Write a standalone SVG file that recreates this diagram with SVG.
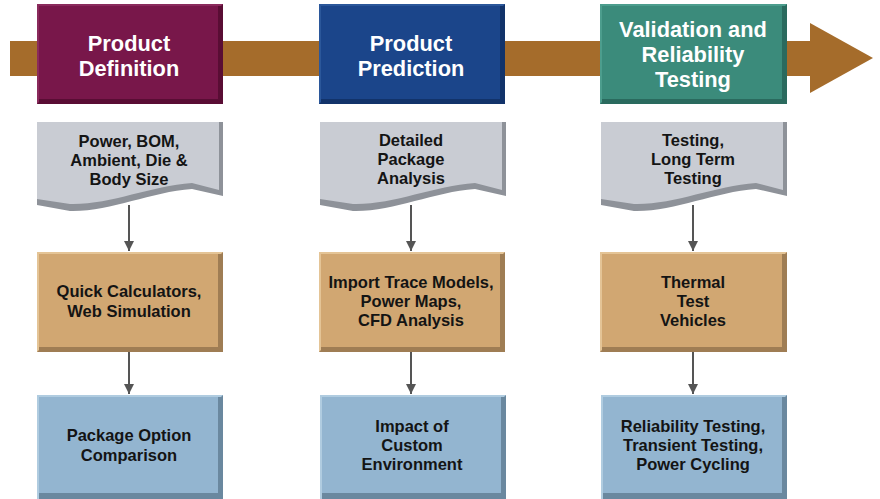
<svg xmlns="http://www.w3.org/2000/svg" width="880" height="499" viewBox="0 0 880 499">
<style>
text{font-family:"Liberation Sans",Arial,sans-serif;font-weight:bold;text-anchor:middle}
.ht{fill:#ffffff;font-size:21.8px}
.bt{fill:#141414;font-size:16.5px}
.conn line{stroke:#555555;stroke-width:2}
</style>
<defs>
<marker id="ah" markerWidth="10" markerHeight="11" refX="10" refY="5" orient="auto" markerUnits="userSpaceOnUse" viewBox="0 0 10 10"><path d="M0,0 L10,5 L0,10 Z" fill="#555555"/></marker>
</defs>
<rect width="880" height="499" fill="#ffffff"/>
<g id="timeline">
<rect x="10" y="41" width="802" height="35" fill="#a56c2b"/>
<polygon points="810,23 873,58 810,93" fill="#a56c2b"/>
</g>
<g id="h1">
<rect x="37" y="4" width="186" height="100" fill="#590d34"/>
<polygon points="37,4 223,4 221,6 39,6 39,102 37,104" fill="#8a2a5c"/>
<rect x="39" y="6" width="179" height="93" fill="#78174a"/>
<text class="ht" x="129" y="51">Product</text>
<text class="ht" x="129" y="76">Definition</text>
</g>
<g id="h2">
<rect x="319" y="4" width="186" height="100" fill="#12336a"/>
<polygon points="319,4 505,4 503,6 321,6 321,102 319,104" fill="#2b579a"/>
<rect x="321" y="6" width="179" height="93" fill="#1b458a"/>
<text class="ht" x="411" y="51">Product</text>
<text class="ht" x="411" y="76">Prediction</text>
</g>
<g id="h3">
<rect x="600" y="4" width="187" height="100" fill="#2a6a5e"/>
<polygon points="600,4 787,4 785,6 602,6 602,102 600,104" fill="#4c9d8d"/>
<rect x="602" y="6" width="180" height="93" fill="#3b8b7b"/>
<text class="ht" x="693" y="37">Validation and</text>
<text class="ht" x="693" y="62">Reliability</text>
<text class="ht" x="693" y="87">Testing</text>
</g>
<g id="d1">
<path d="M37,122 H223 V196 L192,189 C150,192 110,212 70,211 L37,205 Z" fill="#8e9299"/>
<path d="M37,122 H219 V190 L192,183 C150,186 110,205 70,204 L37,199 Z" fill="#c9ccd3"/>
<text class="bt" x="129" y="147">Power, BOM,</text>
<text class="bt" x="129" y="166">Ambient, Die &amp;</text>
<text class="bt" x="129" y="185">Body Size</text>
</g>
<g id="d2">
<path d="M320,122 H506 V196 L475,189 C433,192 393,212 353,211 L320,205 Z" fill="#8e9299"/>
<path d="M320,122 H502 V190 L475,183 C433,186 393,205 353,204 L320,199 Z" fill="#c9ccd3"/>
<text class="bt" x="411" y="146">Detailed</text>
<text class="bt" x="411" y="165">Package</text>
<text class="bt" x="411" y="184">Analysis</text>
</g>
<g id="d3">
<path d="M601,122 H787 V196 L756,189 C714,192 674,212 634,211 L601,205 Z" fill="#8e9299"/>
<path d="M601,122 H783 V190 L756,183 C714,186 674,205 634,204 L601,199 Z" fill="#c9ccd3"/>
<text class="bt" x="693" y="146">Testing,</text>
<text class="bt" x="693" y="165">Long Term</text>
<text class="bt" x="693" y="184">Testing</text>
</g>
<g id="o1">
<rect x="37" y="252" width="186" height="100" fill="#9f7d54"/>
<polygon points="37,252 223,252 221,254 39,254 39,350 37,352" fill="#e4c496"/>
<rect x="39" y="254" width="179" height="93" fill="#d1a772"/>
<text class="bt" x="129" y="297">Quick Calculators,</text>
<text class="bt" x="129" y="317">Web Simulation</text>
</g>
<g id="o2">
<rect x="319" y="252" width="186" height="100" fill="#9f7d54"/>
<polygon points="319,252 505,252 503,254 321,254 321,350 319,352" fill="#e4c496"/>
<rect x="321" y="254" width="179" height="93" fill="#d1a772"/>
<text class="bt" x="411" y="288">Import Trace Models,</text>
<text class="bt" x="411" y="307">Power Maps,</text>
<text class="bt" x="411" y="326">CFD Analysis</text>
</g>
<g id="o3">
<rect x="600" y="252" width="187" height="100" fill="#9f7d54"/>
<polygon points="600,252 787,252 785,254 602,254 602,350 600,352" fill="#e4c496"/>
<rect x="602" y="254" width="180" height="93" fill="#d1a772"/>
<text class="bt" x="693" y="288">Thermal</text>
<text class="bt" x="693" y="307">Test</text>
<text class="bt" x="693" y="326">Vehicles</text>
</g>
<g id="b1">
<rect x="37" y="395" width="186" height="104" fill="#6a889f"/>
<polygon points="37,395 223,395 221,397 39,397 39,499 37,499" fill="#b0cce0"/>
<rect x="39" y="397" width="179" height="96" fill="#93b5d0"/>
<text class="bt" x="129" y="441">Package Option</text>
<text class="bt" x="129" y="461">Comparison</text>
</g>
<g id="b2">
<rect x="320" y="395" width="186" height="104" fill="#6a889f"/>
<polygon points="320,395 506,395 504,397 322,397 322,499 320,499" fill="#b0cce0"/>
<rect x="322" y="397" width="179" height="96" fill="#93b5d0"/>
<text class="bt" x="412" y="432">Impact of</text>
<text class="bt" x="412" y="451">Custom</text>
<text class="bt" x="412" y="470">Environment</text>
</g>
<g id="b3">
<rect x="601" y="395" width="186" height="104" fill="#6a889f"/>
<polygon points="601,395 787,395 785,397 603,397 603,499 601,499" fill="#b0cce0"/>
<rect x="603" y="397" width="179" height="96" fill="#93b5d0"/>
<text class="bt" x="693" y="432">Reliability Testing,</text>
<text class="bt" x="693" y="451">Transient Testing,</text>
<text class="bt" x="693" y="470">Power Cycling</text>
</g>
<g class="conn" id="connectors">
<line x1="129" y1="205" x2="129" y2="251" marker-end="url(#ah)"/>
<line x1="411" y1="205" x2="411" y2="251" marker-end="url(#ah)"/>
<line x1="693" y1="205" x2="693" y2="251" marker-end="url(#ah)"/>
<line x1="129" y1="352" x2="129" y2="394" marker-end="url(#ah)"/>
<line x1="411" y1="352" x2="411" y2="394" marker-end="url(#ah)"/>
<line x1="693" y1="352" x2="693" y2="394" marker-end="url(#ah)"/>
</g>
</svg>
